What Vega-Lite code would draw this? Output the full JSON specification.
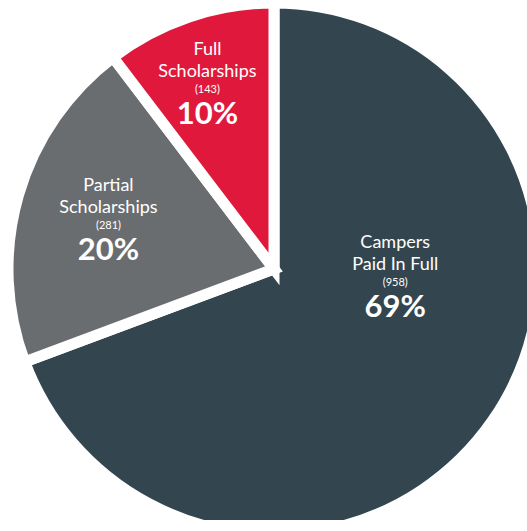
{
  "$schema": "https://vega.github.io/schema/vega-lite/v6.json",
  "autosize": {"type": "none"},
  "padding": {"left": 21, "top": 18, "right": 0, "bottom": 0},
  "width": 506,
  "height": 502,
  "background": "white",
  "view": {"stroke": null},
  "data": {
    "values": [
      {"category": "Campers Paid In Full", "line1": "Campers", "line2": "Paid In Full", "order": 1, "count": 958, "pct": "69%", "countLabel": "(958)"},
      {"category": "Partial Scholarships", "line1": "Partial", "line2": "Scholarships", "order": 2, "count": 281, "pct": "20%", "countLabel": "(281)"},
      {"category": "Full Scholarships", "line1": "Full", "line2": "Scholarships", "order": 3, "count": 143, "pct": "10%", "countLabel": "(143)"}
    ]
  },
  "encoding": {
    "theta": {"field": "count", "type": "quantitative", "stack": true},
    "order": {"field": "order", "type": "quantitative"}
  },
  "layer": [
    {
      "mark": {"type": "arc", "stroke": "white", "strokeWidth": 11, "radius": 266},
      "encoding": {
        "color": {
          "field": "category",
          "type": "nominal",
          "scale": {
            "domain": ["Campers Paid In Full", "Partial Scholarships", "Full Scholarships"],
            "range": ["#33464f", "#6a6d70", "#e0193c"]
          },
          "legend": null
        }
      }
    },
    {
      "mark": {"type": "text", "font": "Lato", "fontSize": 18, "color": "white", "baseline": "middle", "dy": -40,
        "radius": {"expr": "datum.order == 1 ? 122 : (datum.order == 2 ? 171 : 191)"},
        "thetaOffset": {"expr": "datum.order == 1 ? -0.492 : (datum.order == 2 ? -0.029 : -0.031)"}},
      "encoding": {"text": {"field": "line1"}}
    },
    {
      "mark": {"type": "text", "font": "Lato", "fontSize": 18, "color": "white", "baseline": "middle", "dy": -18,
        "radius": {"expr": "datum.order == 1 ? 122 : (datum.order == 2 ? 171 : 191)"},
        "thetaOffset": {"expr": "datum.order == 1 ? -0.492 : (datum.order == 2 ? -0.029 : -0.031)"}},
      "encoding": {"text": {"field": "line2"}}
    },
    {
      "mark": {"type": "text", "font": "Lato", "fontSize": 11, "color": "white", "baseline": "middle",
        "radius": {"expr": "datum.order == 1 ? 122 : (datum.order == 2 ? 171 : 191)"},
        "thetaOffset": {"expr": "datum.order == 1 ? -0.492 : (datum.order == 2 ? -0.029 : -0.031)"}},
      "encoding": {"text": {"field": "countLabel"}}
    },
    {
      "mark": {"type": "text", "font": "Lato", "fontSize": 31, "fontWeight": "bold", "color": "white", "baseline": "middle", "dy": 25,
        "radius": {"expr": "datum.order == 1 ? 122 : (datum.order == 2 ? 171 : 191)"},
        "thetaOffset": {"expr": "datum.order == 1 ? -0.492 : (datum.order == 2 ? -0.029 : -0.031)"}},
      "encoding": {"text": {"field": "pct"}}
    }
  ]
}
